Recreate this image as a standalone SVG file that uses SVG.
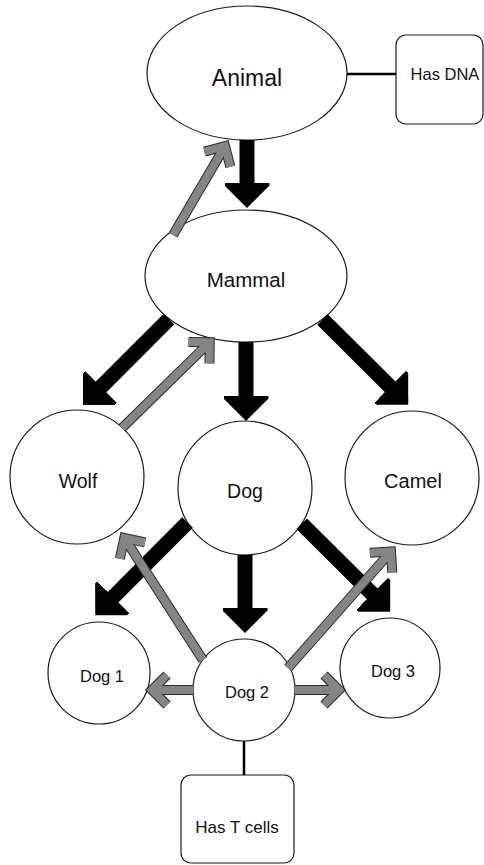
<svg xmlns="http://www.w3.org/2000/svg" width="484" height="865" viewBox="0 0 484 865">
<style>
.n{fill:#fff;stroke:#1a1a1a;stroke-width:1.2}
.t{font-family:"Liberation Sans",Arial,sans-serif;fill:#111;text-anchor:middle}
.blk{stroke:#000;stroke-width:15;fill:none;marker-end:url(#bh)}
.gd{stroke:#2a2a2a;stroke-width:10;fill:none;marker-end:url(#gdh)}
.gl{stroke:#858585;stroke-width:8;fill:none;marker-end:url(#glh)}
.ln{stroke:#000;stroke-width:2.5}
</style>
<defs>
<marker id="bh" viewBox="-0.2 -1.5 1.7 3" markerWidth="1.7" markerHeight="3" refX="0" refY="0" orient="auto" markerUnits="strokeWidth">
<path d="M-0.2,-1.5 L0,-1.5 L1.5,0 L0,1.5 L-0.2,1.5 z" fill="#000"/>
</marker>
<marker id="gdh" markerUnits="userSpaceOnUse" orient="auto" refX="0" refY="0" markerWidth="1" markerHeight="1" overflow="visible">
<path d="M-15,-15 L0,0 L-15,15" fill="none" stroke="#2a2a2a" stroke-width="10" stroke-linejoin="miter"/>
</marker>
<marker id="glh" markerUnits="userSpaceOnUse" orient="auto" refX="0" refY="0" markerWidth="1" markerHeight="1" overflow="visible">
<path d="M-15,-15 L0,0 L-15,15" fill="none" stroke="#858585" stroke-width="8" stroke-linejoin="miter"/>
</marker>
</defs>
<rect width="484" height="865" fill="#fff"/>
<g id="animal"><ellipse class="n" cx="247" cy="73" rx="100" ry="67"/><text class="t" x="247" y="86" font-size="23">Animal</text></g>
<g id="has-dna"><rect class="n" x="396" y="35" width="87" height="89" rx="10"/><text class="t" x="445" y="80" font-size="16.5">Has DNA</text></g>
<g id="mammal"><ellipse class="n" cx="246" cy="276" rx="101" ry="66"/><text class="t" x="246" y="287" font-size="20.5">Mammal</text></g>
<g id="wolf"><circle class="n" cx="77" cy="477" r="67"/><text class="t" x="78" y="488" font-size="19.5">Wolf</text></g>
<g id="dog"><circle class="n" cx="245" cy="488" r="67"/><text class="t" x="245" y="498" font-size="19.5">Dog</text></g>
<g id="camel"><circle class="n" cx="412" cy="478" r="67"/><text class="t" x="413" y="488" font-size="20">Camel</text></g>
<g id="dog1"><circle class="n" cx="99" cy="673" r="51"/><text class="t" x="102" y="682" font-size="16.5">Dog 1</text></g>
<g id="dog2"><circle class="n" cx="244" cy="690" r="51"/><text class="t" x="247" y="698" font-size="16.5">Dog 2</text></g>
<g id="dog3"><circle class="n" cx="390" cy="668" r="50"/><text class="t" x="393" y="677" font-size="16.5">Dog 3</text></g>
<g id="has-t-cells"><rect class="n" x="181" y="775" width="113" height="88" rx="10"/><text class="t" x="237" y="833" font-size="17">Has T cells</text></g>
<g id="connectors">
<line class="ln" x1="347" y1="74" x2="396" y2="74"/>
<line class="ln" x1="244" y1="741" x2="244" y2="775"/>
<line class="blk" x1="247" y1="140" x2="247" y2="185.5"/>
<line class="blk" x1="169" y1="319" x2="98.9" y2="389.1"/>
<line class="blk" x1="246" y1="342" x2="246" y2="398.5"/>
<line class="blk" x1="322.5" y1="319.5" x2="392.3" y2="388.9"/>
<line class="blk" x1="187.5" y1="522.5" x2="111.1" y2="599.3"/>
<line class="blk" x1="245" y1="555" x2="245" y2="610.5"/>
<line class="blk" x1="301.7" y1="523.7" x2="374.3" y2="595.9"/>
<line class="gd" x1="173" y1="235" x2="225" y2="146.2"/>
<line class="gd" x1="122" y1="428" x2="209.7" y2="342.2"/>
<line class="gd" x1="203" y1="660" x2="124.3" y2="538"/>
<line class="gd" x1="288" y1="668" x2="391" y2="551.5"/>
<line class="gd" x1="193" y1="690" x2="152" y2="690"/>
<line class="gd" x1="295" y1="690" x2="339" y2="690"/>
<line class="gl" x1="173" y1="235" x2="225" y2="146.2"/>
<line class="gl" x1="122" y1="428" x2="209.7" y2="342.2"/>
<line class="gl" x1="203" y1="660" x2="124.3" y2="538"/>
<line class="gl" x1="288" y1="668" x2="391" y2="551.5"/>
<line class="gl" x1="193" y1="690" x2="152" y2="690"/>
<line class="gl" x1="295" y1="690" x2="339" y2="690"/>
</g>
</svg>
